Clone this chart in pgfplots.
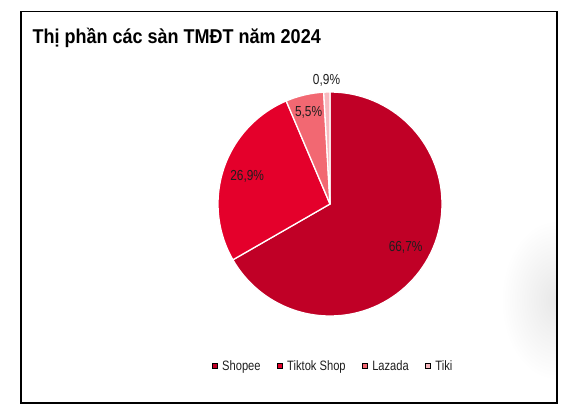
\documentclass[border=0pt]{standalone}
\usepackage{fontspec}
\setmainfont{Liberation Sans}
\newfontfamily\titlefont[FakeStretch=0.9]{Liberation Sans}
\newfontfamily\narrowfont[FakeStretch=0.82]{Liberation Sans}
\usepackage{pgfplots}
\usepackage{pgfplotstable}
\pgfplotsset{compat=1.18}

\definecolor{c0}{RGB}{192,0,38}
\definecolor{c1}{RGB}{228,0,43}
\definecolor{c2}{RGB}{242,104,114}
\definecolor{c3}{RGB}{248,184,190}
\definecolor{txt}{RGB}{30,30,30}

\newcommand\labelfont{\narrowfont\fontsize{14.5bp}{16bp}\selectfont\color{txt}}

% thi phan (%), ban kinh dat nhan
\pgfplotstableread{
name value labelr
Shopee 66.7 0.78
{Tiktok Shop} 26.9 0.78
Lazada 5.5 0.84
Tiki 0.9 1.10
}\sharetable

\begin{document}
\begin{tikzpicture}[x=1bp,y=1bp]
\useasboundingbox (0,0) rectangle (568,414);
\begin{scope}
\clip (21,11) rectangle (557,402.5);
\shade[inner color=black!9, outer color=white] (556,114) ellipse [x radius=55, y radius=80];
\end{scope}
\draw[line width=1.5bp] (21,11) rectangle (557,402.5);
\node[anchor=base west, text=black, inner sep=0pt,
  font=\titlefont\bfseries\fontsize{20bp}{24bp}\selectfont]
  at (32.5,370.7) {Thị phần các sàn TMĐT năm 2024};
\begin{axis}[
  at={(330bp,210bp)}, anchor=origin,
  x=112bp, y=112bp,
  xmin=-1.2, xmax=1.2, ymin=-1.2, ymax=1.2,
  hide axis, scale only axis,
  legend image code/.code={\fill[#1] (0bp,-2.6bp) rectangle (5.2bp,2.6bp);},
  legend style={at={(0.511,-0.103)}, anchor=center,
    legend columns=-1, draw=none, fill=none,
    font=\narrowfont\fontsize{13.6bp}{15bp}\selectfont, text=txt,
    /tikz/every odd column/.append style={column sep=3bp},
    /tikz/every even column/.append style={column sep=14bp}},
]
\xdef\startang{90}
\pgfplotsinvokeforeach{0,...,3}{
  \pgfplotstablegetelem{#1}{value}\of\sharetable
  \let\val\pgfplotsretval
  \pgfplotstablegetelem{#1}{labelr}\of\sharetable
  \let\lr\pgfplotsretval
  \pgfmathsetmacro\endang{\startang-3.6*\val}
  \pgfmathsetmacro\sx{cos(\startang)}
  \pgfmathsetmacro\sy{sin(\startang)}
  \pgfmathsetmacro\midang{(\startang+\endang)/2}
  \pgfmathsetmacro\lx{\lr*cos(\midang)}
  \pgfmathsetmacro\ly{\lr*sin(\midang)}
  \edef\temp{\noexpand\filldraw[fill=c#1, draw=white, line width=1.3bp, line join=round]
    (axis cs:0,0) -- (axis cs:\sx,\sy) arc[start angle=\startang, end angle=\endang, radius=112bp] -- cycle;
    \noexpand\node[inner sep=0pt] at (axis cs:\lx,\ly)
    {\noexpand\labelfont\noexpand\pgfmathprintnumber[fixed,precision=1,fixed zerofill,use comma,assume math mode=true]{\val}\noexpand\%};}
  \temp
  \xdef\startang{\endang}
}
\addlegendimage{fill=c0}
\addlegendimage{fill=c1}
\addlegendimage{fill=c2}
\addlegendimage{fill=c3}
\legend{Shopee, Tiktok Shop, Lazada, Tiki}
\end{axis}
\end{tikzpicture}
\end{document}
